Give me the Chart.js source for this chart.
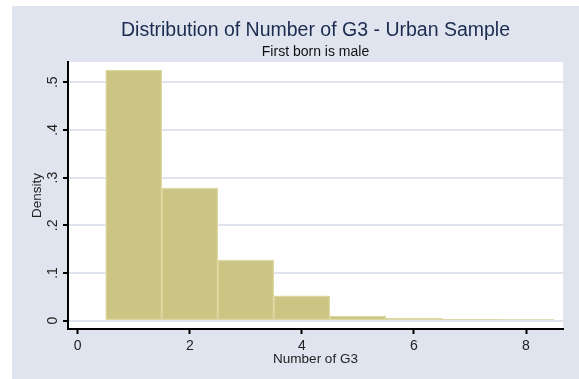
<!DOCTYPE html>
<html>
<head>
<meta charset="utf-8">
<script src="https://cdn.jsdelivr.net/npm/chart.js@4.4.1/dist/chart.umd.min.js"></script>
<style>
  html, body { margin: 0; padding: 0; background: #ffffff; }
  #wrap { width: 579px; height: 379px; }
</style>
</head>
<body>
<div id="wrap"><canvas id="histChart" width="579" height="379"></canvas></div>
<script>
// histogram bins (bin width 1, centred on each count) and their densities
const binCenters = [1, 2, 3, 4, 5, 6, 7, 8];
const densities = [0.5255, 0.278, 0.127, 0.052, 0.0099, 0.0055, 0.003, 0.0025];
const xTickValues = [0, 2, 4, 6, 8];
const yTickValues = [0, 0.1, 0.2, 0.3, 0.4, 0.5];

const titleText = 'Distribution of Number of G3 - Urban Sample';
const subtitleText = 'First born is male';
const xTitleText = 'Number of G3';
const yTitleText = 'Density';

const FONT = '"Liberation Sans", Arial, Helvetica, sans-serif';
const panelColor = '#dfe4ef';
const navy = '#1c2c50';

// Stata-ish y labels: "0", ".1", ".2" ...
const fmtY = v => v === 0 ? '0' : v.toFixed(1).replace(/^0/, '');

const stataLook = {
    id: 'stataLook',
    beforeDraw(chart) {
        const { ctx, chartArea: a } = chart;
        ctx.save();
        ctx.fillStyle = '#ffffff';
        ctx.fillRect(0, 0, chart.width, chart.height);
        ctx.fillStyle = panelColor;
        ctx.fillRect(12, 6, chart.width - 12, chart.height - 6);
        ctx.fillStyle = '#ffffff';
        ctx.fillRect(a.left, a.top, a.right - a.left, a.bottom - a.top);
        ctx.restore();
    },
    afterDraw(chart) {
        const { ctx, chartArea: a } = chart;
        const yScale = chart.scales.y;
        const cx = (a.left + a.right) / 2;
        ctx.save();
        ctx.textAlign = 'center';
        ctx.textBaseline = 'alphabetic';

        ctx.fillStyle = navy;
        ctx.font = '19.5px ' + FONT;
        ctx.fillText(titleText, cx, 36);
        ctx.fillStyle = '#111111';
        ctx.font = '14px ' + FONT;
        ctx.fillText(subtitleText, cx, 56);

        // rotated y tick labels
        ctx.fillStyle = '#222222';
        ctx.font = '14px ' + FONT;
        yTickValues.forEach(v => {
            ctx.save();
            ctx.translate(56.5, yScale.getPixelForValue(v));
            ctx.rotate(-Math.PI / 2);
            ctx.fillText(fmtY(v), 0, 0);
            ctx.restore();
        });

        // y axis title
        ctx.font = '13.5px ' + FONT;
        ctx.translate(40.5, (a.top + a.bottom) / 2);
        ctx.rotate(-Math.PI / 2);
        ctx.fillText(yTitleText, 0, 0);
        ctx.restore();
    }
};

new Chart(document.getElementById('histChart'), {
    type: 'bar',
    data: {
        datasets: [{
            label: 'Density',
            data: binCenters.map((c, i) => ({ x: c, y: densities[i] })),
            backgroundColor: '#cbc482',
            borderColor: '#dcd7a0',
            borderWidth: 1.4,
            borderSkipped: false,
            barPercentage: 1,
            categoryPercentage: 1
        }]
    },
    options: {
        responsive: false,
        animation: false,
        events: [],
        layout: { padding: { left: 12, right: 16, top: 62, bottom: 0 } },
        plugins: {
            legend: { display: false },
            title: { display: false },
            tooltip: { enabled: false }
        },
        scales: {
            x: {
                type: 'linear',
                offset: false,
                min: -0.173,
                max: 8.66,
                afterBuildTicks: axis => { axis.ticks = xTickValues.map(v => ({ value: v })); },
                afterFit: axis => { axis.height = 50; },
                border: { display: true, color: '#000000', width: 2 },
                grid: {
                    offset: false,
                    drawOnChartArea: false,
                    drawTicks: true,
                    tickLength: 5,
                    tickColor: '#000000',
                    tickWidth: 2
                },
                ticks: {
                    color: '#222222',
                    font: { family: FONT, size: 14 },
                    padding: 4,
                    maxRotation: 0,
                    autoSkip: false
                },
                title: {
                    display: true,
                    text: xTitleText,
                    color: '#222222',
                    font: { family: FONT, size: 13.5 },
                    padding: { top: 0, bottom: 12 }
                }
            },
            y: {
                type: 'linear',
                min: -0.0174,
                max: 0.5423,
                afterBuildTicks: axis => { axis.ticks = yTickValues.map(v => ({ value: v })); },
                afterFit: axis => { axis.width = 56; },
                border: { display: true, color: '#000000', width: 2 },
                grid: {
                    color: panelColor,
                    lineWidth: 2,
                    drawTicks: true,
                    tickLength: 5,
                    tickColor: '#000000',
                    tickWidth: 2
                },
                ticks: { display: false }
            }
        }
    },
    plugins: [stataLook]
});
</script>
</body>
</html>
